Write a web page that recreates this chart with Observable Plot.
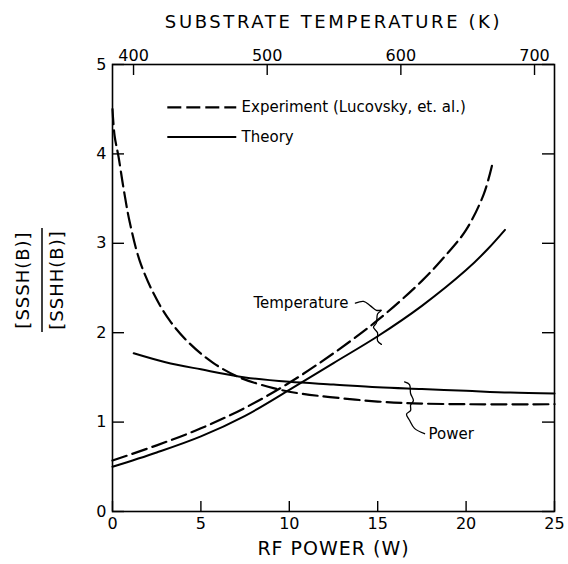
<!DOCTYPE html>
<html><head><meta charset="utf-8">
<script src="https://cdn.jsdelivr.net/npm/d3@7"></script>
<script src="https://cdn.jsdelivr.net/npm/@observablehq/plot@0.6"></script>
<style>body{margin:0;background:#fff}</style>
</head><body><div id="chart"></div>
<script>
// ---- data ----
const expPowerW   = [0, 0.12, 0.34, 0.62, 0.96, 1.53, 2.32, 3.22, 4.36, 5.71, 7.18, 9.1, 10.6, 12.3, 15, 17, 20, 25];
const expPowerV   = [4.5, 4.2, 3.97, 3.62, 3.25, 2.81, 2.44, 2.14, 1.88, 1.66, 1.5, 1.38, 1.32, 1.28, 1.23, 1.21, 1.2, 1.2];
const thPowerW    = [1.2, 3, 5, 7.5, 10, 12.5, 15, 17.5, 20, 22.5, 25];
const thPowerV    = [1.77, 1.67, 1.59, 1.5, 1.45, 1.42, 1.39, 1.37, 1.35, 1.33, 1.32];
const expTempW    = [0, 2.5, 5, 7.5, 10, 12.5, 15, 17.5, 19, 20, 21, 21.5];
const expTempV    = [0.57, 0.74, 0.93, 1.16, 1.44, 1.77, 2.14, 2.58, 2.9, 3.15, 3.55, 3.9];
const thTempW     = [0, 2.5, 5, 7.5, 10, 12.5, 15, 17.5, 20, 21.2, 22.2];
const thTempV     = [0.5, 0.66, 0.84, 1.07, 1.36, 1.66, 1.96, 2.3, 2.7, 2.93, 3.15];
const xTicks      = [0, 5, 10, 15, 20, 25];
const yTicks      = [0, 1, 2, 3, 4, 5];
const tempTicks   = [400, 500, 600, 700];
const tempBrace   = [[13.74,2.33],[14.2,2.35],[14.59,2.30],[14.93,2.25],[15.21,2.25],[14.99,2.21],[14.93,2.11],[14.76,2.06],[14.99,2.0],[14.99,1.91],[15.21,1.87]];
const powerBrace  = [[16.52,1.45],[16.8,1.42],[16.86,1.32],[17.02,1.24],[16.86,1.19],[16.86,1.13],[16.63,1.09],[16.8,1.02],[17.08,0.93],[17.65,0.87]];
const legendItems = ["Experiment (Lucovsky, et. al.)", "Theory"];
const titleTop    = "SUBSTRATE TEMPERATURE (K)";
const titleBottom = "RF POWER (W)";
const yNum        = "[SSSH(B)]";
const yDen        = "[SSHH(B)]";

// temperature (K) -> RF power position
const tempToW = t => 1.19 + (t - 400) * (22.68 / 300);

const W = 568, H = 564, mL = 112, mR = 14, mT = 64, mB = 53;
const fw = W - mL - mR, fh = H - mT - mB, tk = 10;
const dash = "15,6";
const pts = (w, v) => d3.zip(w, v);

const chart = Plot.plot({
  width: W, height: H,
  marginLeft: mL, marginRight: mR, marginTop: mT, marginBottom: mB,
  x: {domain: [0, 25], label: null},
  y: {domain: [0, 5], label: null},
  style: {fontFamily: "'DejaVu Sans', sans-serif", background: "white", color: "black"},
  marks: [
    Plot.frame({stroke: "black", strokeWidth: 1.6}),
    // inward ticks
    Plot.tickX(xTicks, {x: d => d, insetTop: fh - tk, stroke: "black", strokeWidth: 1.4}),
    Plot.tickX(tempTicks.map(tempToW), {x: d => d, insetBottom: fh - tk - 1, stroke: "black", strokeWidth: 1.4}),
    Plot.tickY(yTicks, {y: d => d, insetRight: fw - tk - 2, stroke: "black", strokeWidth: 1.4}),
    Plot.tickY(yTicks, {y: d => d, insetLeft: fw - tk - 2, stroke: "black", strokeWidth: 1.4}),
    // tick labels
    Plot.axisX(xTicks, {anchor: "bottom", tickSize: 0, tickPadding: 6, fontSize: 16, label: null, tickFormat: "d"}),
    Plot.axisX(tempTicks.map(tempToW), {anchor: "top", tickSize: 0, tickPadding: 4, fontSize: 16, label: null,
      tickFormat: (d, i) => String(tempTicks[i])}),
    Plot.axisY(yTicks, {anchor: "left", tickSize: 0, tickPadding: 6, fontSize: 16, label: null, tickFormat: "d"}),
    // curves
    Plot.line(pts(expPowerW, expPowerV), {x: "0", y: "1", curve: "catmull-rom", stroke: "black", strokeWidth: 2.2, strokeDasharray: dash}),
    Plot.line(pts(thPowerW, thPowerV), {x: "0", y: "1", curve: "catmull-rom", stroke: "black", strokeWidth: 2}),
    Plot.line(pts(expTempW, expTempV), {x: "0", y: "1", curve: "catmull-rom", stroke: "black", strokeWidth: 2.2, strokeDasharray: dash}),
    Plot.line(pts(thTempW, thTempV), {x: "0", y: "1", curve: "catmull-rom", stroke: "black", strokeWidth: 2}),
    // annotation braces
    Plot.line(tempBrace, {x: "0", y: "1", curve: "catmull-rom", stroke: "black", strokeWidth: 1.3}),
    Plot.line(powerBrace, {x: "0", y: "1", curve: "catmull-rom", stroke: "black", strokeWidth: 1.3}),
    Plot.text(["Temperature"], {x: 7.97, y: 2.33, textAnchor: "start", fontSize: 15}),
    Plot.text(["Power"], {x: 17.87, y: 0.87, textAnchor: "start", fontSize: 15}),
    // legend
    Plot.link([legendItems[0]], {x1: 3.1, x2: 7.0, y1: 4.52, y2: 4.52, stroke: "black", strokeWidth: 2.2, strokeDasharray: "14,5"}),
    Plot.link([legendItems[1]], {x1: 3.1, x2: 7.0, y1: 4.19, y2: 4.19, stroke: "black", strokeWidth: 2}),
    Plot.text([legendItems[0]], {x: 7.3, y: 4.52, text: d => d, textAnchor: "start", fontSize: 15}),
    Plot.text([legendItems[1]], {x: 7.3, y: 4.19, text: d => d, textAnchor: "start", fontSize: 15}),
    // titles
    Plot.text([titleTop], {frameAnchor: "top", dy: -42, lineAnchor: "middle", text: d => d, fontSize: 18}),
    Plot.text([titleBottom], {frameAnchor: "bottom", dy: 37, lineAnchor: "middle", text: d => d, fontSize: 19}),
    Plot.text([yNum], {frameAnchor: "left", dx: -89, dy: -8, rotate: -90, textAnchor: "middle", text: d => d, fontSize: 18}),
    Plot.text([yDen], {frameAnchor: "left", dx: -55, dy: -8, rotate: -90, textAnchor: "middle", text: d => d, fontSize: 18})
  ]
});
document.getElementById("chart").appendChild(chart);
// letter spacing of the lettered titles
const spacing = {[titleTop]: "2.6px", [titleBottom]: "1px", [yNum]: "1px", [yDen]: "1px"};
d3.select(chart).selectAll("text").each(function () {
  const s = spacing[this.textContent];
  if (s) d3.select(this).style("letter-spacing", s);
});
// fraction bar between numerator and denominator
d3.select(chart).append("line")
  .attr("x1", 42).attr("x2", 42).attr("y1", 228).attr("y2", 332)
  .attr("stroke", "black").attr("stroke-width", 1.5);
</script>
</body></html>
